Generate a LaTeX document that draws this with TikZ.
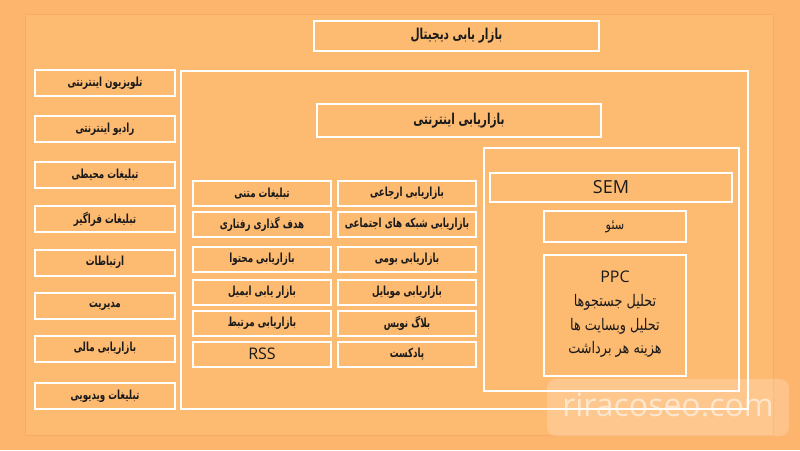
\documentclass[tikz,border=0pt]{standalone}
\usepackage{fontspec}
\setmainfont{Open Sans}
\newfontfamily\fa[Script=Arabic, FakeStretch=0.8]{DejaVu Sans}
\newfontfamily\fab[Script=Arabic, FakeStretch=0.7]{DejaVu Sans}
\newfontfamily\wm{Open Sans}
\TeXXeTstate=1
\definecolor{bgout}{HTML}{FDB56D}
\definecolor{bgpanel}{HTML}{FDBA71}
\definecolor{panelline}{HTML}{F6AC64}
\definecolor{ink}{HTML}{1A1A1A}
\newcommand{\fatext}[1]{{\beginR #1\endR}}
\tikzset{
  wbox/.style={draw=white, line width=2pt, inner sep=0pt, text=ink, align=center},
  frame/.style={draw=white, line width=2.5pt, inner sep=0pt},
  lab/.style={font=\fab\bfseries\fontsize{12.5}{14}\selectfont},
  title/.style={font=\fab\bfseries\fontsize{15}{17}\selectfont},
  labn/.style={font=\fa\fontsize{16}{18}\selectfont},
  latin/.style={font=\fontsize{16}{18}\selectfont},
  leftbox/.style={wbox, lab, minimum width=140pt, minimum height=26pt},
  midbox/.style={wbox, lab, minimum width=138pt, minimum height=25pt},
}
\begin{document}
\begin{tikzpicture}[x=1pt,y=-1pt]
\useasboundingbox[fill=bgout] (0,0) rectangle (800,450);
\draw[fill=bgpanel, draw=panelline, line width=0.8pt] (25,14) rectangle (773,435);

% top
\node[wbox, title, minimum width=285pt, minimum height=30pt] (digital) at (456.5,36) {\fatext{بازار یابی دیجیتال}};

% big frame
\draw[frame] (181,71) rectangle (748,409);
\node[wbox, title, minimum width=284pt, minimum height=33pt] (internet) at (459,120.5) {\fatext{بازاریابی اینترنتی}};

% SEM group
\draw[frame] (484,148) rectangle (739,391);
\node[wbox, font=\fontsize{18}{20}\selectfont, minimum width=242pt, minimum height=29pt] (sem) at (611,187.5) {SEM};
\node[wbox, font=\fa\fontsize{14}{16}\selectfont, minimum width=142pt, minimum height=31pt] (seo) at (615,226.5) {\fatext{سئو}};
\draw[draw=white, line width=2pt] (544,255) rectangle (686,376);
\node[text=ink, latin] (ppct) at (615,277) {PPC};
\node[text=ink, labn] (ppc1) at (615,302) {\fatext{تحلیل جستجوها}};
\node[text=ink, labn] (ppc2) at (615,326) {\fatext{تحلیل وبسایت ها}};
\node[text=ink, labn] (ppc3) at (615,349) {\fatext{هزینه هر برداشت}};

% left column
\node[leftbox] (l1) at (105,83) {\fatext{تلویزیون اینترنتی}};
\node[leftbox] (l2) at (105,129) {\fatext{رادیو اینترنتی}};
\node[leftbox] (l3) at (105,175) {\fatext{تبلیغات محیطی}};
\node[leftbox] (l4) at (105,219) {\fatext{تبلیغات فراگیر}};
\node[leftbox] (l5) at (105,262.5) {\fatext{ارتباطات}};
\node[leftbox] (l6) at (105,306) {\fatext{مدیریت}};
\node[leftbox] (l7) at (105,348.5) {\fatext{بازاریابی مالی}};
\node[leftbox] (l8) at (105,396) {\fatext{تبلیغات ویدیویی}};

% middle right column
\node[midbox] (r1) at (407,193.5) {\fatext{بازاریابی ارجاعی}};
\node[midbox] (r2) at (407,224.5) {\fatext{بازاریابی شبکه های اجتماعی}};
\node[midbox] (r3) at (407,259.5) {\fatext{بازاریابی بومی}};
\node[midbox] (r4) at (407,292.5) {\fatext{بازاریابی موبایل}};
\node[midbox] (r5) at (407,323.5) {\fatext{بلاگ نویس}};
\node[midbox] (r6) at (407,354) {\fatext{پادکست}};

% middle left column
\node[midbox] (m1) at (262,193.5) {\fatext{تبلیغات متنی}};
\node[midbox] (m2) at (262,224.5) {\fatext{هدف گذاری رفتاری}};
\node[midbox] (m3) at (262,259.5) {\fatext{بازاریابی محتوا}};
\node[midbox] (m4) at (262,292.5) {\fatext{بازار یابی ایمیل}};
\node[midbox] (m5) at (262,323.5) {\fatext{بازاریابی مرتبط}};
\node[midbox, latin] (m6) at (262,354) {RSS};

% watermark
\fill[white, fill opacity=0.2, rounded corners=9pt] (547,379) rectangle (789,436);
\node[text=white, text opacity=0.55, font=\wm\fontsize{32}{36}\selectfont] (wmark) at (668,405) {riracoseo.com};
\end{tikzpicture}
\end{document}
